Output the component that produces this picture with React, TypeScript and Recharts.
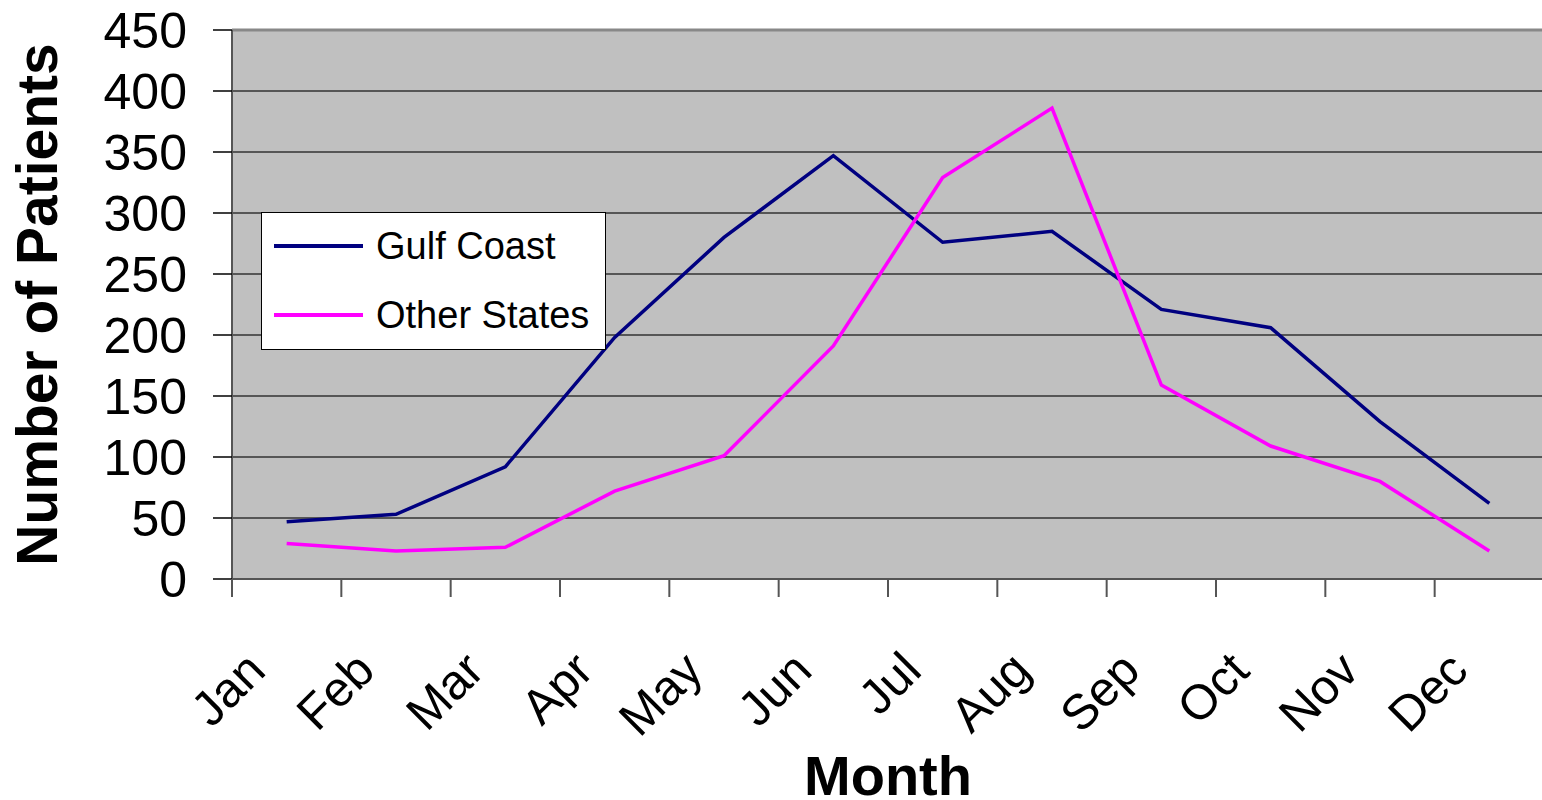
import {
  LineChart,
  Line,
  XAxis,
  YAxis,
  CartesianGrid,
  Legend,
  Label,
  ReferenceLine,
} from "recharts";

const months = ["Jan", "Feb", "Mar", "Apr", "May", "Jun", "Jul", "Aug", "Sep", "Oct", "Nov", "Dec"];
const gulfCoast = [47, 53, 92, 198, 280, 347, 276, 285, 221, 206, 129, 62];
const otherStates = [29, 23, 26, 72, 101, 191, 329, 386, 159, 109, 80, 23];
const yTicks = [0, 50, 100, 150, 200, 250, 300, 350, 400, 450];

const data = months.map((month, i) => ({
  month,
  gulf: gulfCoast[i],
  other: otherStates[i],
}));

const FONT = "'Liberation Sans', Arial, sans-serif";
const CHART_W = 1550;
const CHART_H = 800;
const MARGIN = { top: 30, right: 6, left: 0, bottom: 0 };
const Y_AXIS_W = 232;
const BAND = (CHART_W - MARGIN.right - Y_AXIS_W) / months.length;

const MonthTick = ({ x, y, payload }: { x: number; y: number; payload: { value: string } }) => {
  const edge = x - BAND / 2;
  return (
    <g>
      <line x1={edge} y1={y} x2={edge} y2={y + 18} stroke="#555" strokeWidth={2} />
      <text
        x={x - 19}
        y={y + 94}
        textAnchor="end"
        transform={`rotate(-45, ${x - 19}, ${y + 94})`}
        fontSize={49}
        fontFamily={FONT}
        fill="#000"
      >
        {payload.value}
      </text>
    </g>
  );
};

const legendItems = [
  { label: "Gulf Coast", color: "#000080" },
  { label: "Other States", color: "#FF00FF" },
];

const LegendBox = () => (
  <div
    style={{
      width: 343,
      height: 136,
      background: "#fff",
      border: "1px solid #000",
      fontFamily: FONT,
      fontSize: 38,
      position: "relative",
    }}
  >
    {legendItems.map((item, i) => (
      <div
        key={item.label}
        style={{
          position: "absolute",
          left: 12,
          top: 33 + i * 69 - 24,
          height: 48,
          display: "flex",
          alignItems: "center",
          whiteSpace: "pre",
        }}
      >
        <span style={{ display: "inline-block", width: 89, height: 4, background: item.color }} />
        <span style={{ marginLeft: 13 }}>{item.label}</span>
      </div>
    ))}
  </div>
);

export default function App() {
  return (
    <div style={{ position: "absolute", left: 0, top: 0, width: 1542, height: 800, overflow: "hidden", background: "#fff" }}>
      <LineChart width={CHART_W} height={CHART_H} data={data} margin={MARGIN}>
        <CartesianGrid
          vertical={false}
          fill="#C0C0C0"
          fillOpacity={1}
          stroke="#333"
          strokeWidth={1.5}
        />
        <XAxis
          dataKey="month"
          scale="band"
          height={221}
          tickSize={0}
          tickMargin={0}
          tickLine={false}
          axisLine={{ stroke: "#555", strokeWidth: 2 }}
          interval={0}
          tick={(props: any) => <MonthTick {...props} />}
        >
          <Label
            content={({ viewBox }: any) => (
              <text
                x={viewBox.x + viewBox.width / 2}
                y={795}
                textAnchor="middle"
                fontSize={56}
                fontWeight="bold"
                fontFamily={FONT}
                fill="#000"
              >
                Month
              </text>
            )}
          />
        </XAxis>
        <YAxis
          width={Y_AXIS_W}
          domain={[0, 450]}
          ticks={yTicks}
          interval={0}
          tickSize={19}
          tickMargin={26}
          tickLine={{ stroke: "#000", strokeWidth: 1.5 }}
          axisLine={{ stroke: "#555", strokeWidth: 2 }}
          tick={{ fontSize: 50, fontFamily: FONT, fill: "#000" }}
        >
          <Label
            content={({ viewBox }: any) => {
              const cy = viewBox.y + viewBox.height / 2;
              return (
                <text
                  x={37}
                  y={cy}
                  textAnchor="middle"
                  dominantBaseline="central"
                  transform={`rotate(-90, 37, ${cy})`}
                  fontSize={57}
                  fontWeight="bold"
                  fontFamily={FONT}
                  fill="#000"
                >
                  Number of Patients
                </text>
              );
            }}
          />
        </YAxis>
        <ReferenceLine y={450} stroke="#888" strokeWidth={3} />
        <Legend
          layout="horizontal"
          verticalAlign="middle"
          align="center"
          content={() => <LegendBox />}
          wrapperStyle={{ position: "absolute", left: 261, top: 212, width: 345, height: 138 }}
        />
        <Line
          type="linear"
          dataKey="gulf"
          stroke="#000080"
          strokeWidth={3.5}
          dot={false}
          isAnimationActive={false}
        />
        <Line
          type="linear"
          dataKey="other"
          stroke="#FF00FF"
          strokeWidth={3.5}
          dot={false}
          isAnimationActive={false}
        />
      </LineChart>
    </div>
  );
}
